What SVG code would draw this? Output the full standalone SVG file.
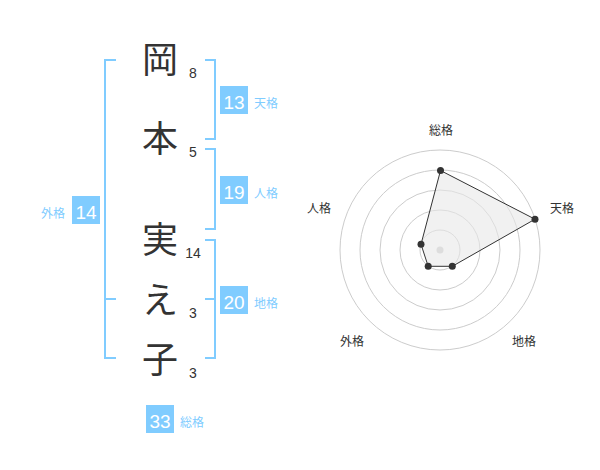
<svg xmlns="http://www.w3.org/2000/svg" width="600" height="470" viewBox="0 0 600 470">
<style>
.ch{font-family:"Noto Sans CJK JP","Noto Sans CJK SC",sans-serif;font-size:36px;fill:#333;text-anchor:middle}
.st{font-family:"Liberation Sans",Arial,sans-serif;font-size:14px;fill:#333;text-anchor:middle}
.br{fill:none;stroke:#80ccff;stroke-width:2}
.box{fill:#80ccff}
.bn{font-family:"Liberation Sans",Arial,sans-serif;font-size:19px;fill:#fff;text-anchor:middle}
.lb{font-family:"Noto Sans CJK JP","Noto Sans CJK SC",sans-serif;font-size:12px;fill:#80ccff}
.rl{font-family:"Noto Sans CJK JP","Noto Sans CJK SC",sans-serif;font-size:12px;fill:#333;text-anchor:middle}
.ring{fill:none;stroke:#cccccc;stroke-width:1}
.pt{fill:#333}
</style>
<rect width="600" height="470" fill="#fff"/>
<g id="chars">
<g id="c1"><text class="ch" x="160" y="73">岡</text><text class="st" x="193" y="78">8</text></g>
<g id="c2"><text class="ch" x="160" y="152">本</text><text class="st" x="193" y="157">5</text></g>
<g id="c3"><text class="ch" x="160" y="253">実</text><text class="st" x="193" y="258">14</text></g>
<g id="c4"><text class="ch" x="160" y="313">え</text><text class="st" x="193" y="318">3</text></g>
<g id="c5"><text class="ch" x="160" y="373">子</text><text class="st" x="193" y="378">3</text></g>
</g>
<g id="connectors">
<path class="br" d="M116,60 H105 V358 H116 M105,299 H116"/>
<path class="br" d="M205,60 H215 V139 H205"/>
<path class="br" d="M205,149 H215 V229 H205"/>
<path class="br" d="M205,240 H215 V358 H205 M215,299 H205"/>
</g>
<g id="tenkaku"><rect class="box" x="220" y="86" width="28" height="28"/><text class="bn" x="234" y="108.5">13</text><text class="lb" x="254" y="108">天格</text></g>
<g id="jinkaku"><rect class="box" x="220" y="176" width="28" height="28"/><text class="bn" x="234" y="198.5">19</text><text class="lb" x="254" y="198">人格</text></g>
<g id="chikaku"><rect class="box" x="220" y="286" width="28" height="28"/><text class="bn" x="234" y="308.5">20</text><text class="lb" x="254" y="308">地格</text></g>
<g id="gaikaku"><rect class="box" x="72" y="196" width="28" height="28"/><text class="bn" x="86" y="218.5">14</text><text class="lb" x="41" y="218">外格</text></g>
<g id="soukaku"><rect class="box" x="146" y="405" width="28" height="28"/><text class="bn" x="160" y="427.5">33</text><text class="lb" x="180" y="427">総格</text></g>
<g id="radar">
<circle class="ring" cx="440" cy="250" r="20"/>
<circle class="ring" cx="440" cy="250" r="40"/>
<circle class="ring" cx="440" cy="250" r="60"/>
<circle class="ring" cx="440" cy="250" r="80"/>
<circle class="ring" cx="440" cy="250" r="100"/>
<circle cx="440" cy="250" r="3.5" fill="#cccccc"/>
<polygon points="440.5,170.5 535,219.2 452.3,266.3 428.2,266.3 421,244.3" fill="#e8e8e8" fill-opacity="0.6" stroke="#333" stroke-width="1"/>
<circle class="pt" cx="440.5" cy="170.5" r="3.5"/>
<circle class="pt" cx="535" cy="219.2" r="3.5"/>
<circle class="pt" cx="452.3" cy="266.3" r="3.5"/>
<circle class="pt" cx="428.2" cy="266.3" r="3.5"/>
<circle class="pt" cx="421" cy="244.3" r="3.5"/>
<text class="rl" x="441" y="135">総格</text>
<text class="rl" x="562" y="213">天格</text>
<text class="rl" x="319" y="213">人格</text>
<text class="rl" x="352" y="346">外格</text>
<text class="rl" x="524" y="346">地格</text>
</g>
</svg>
